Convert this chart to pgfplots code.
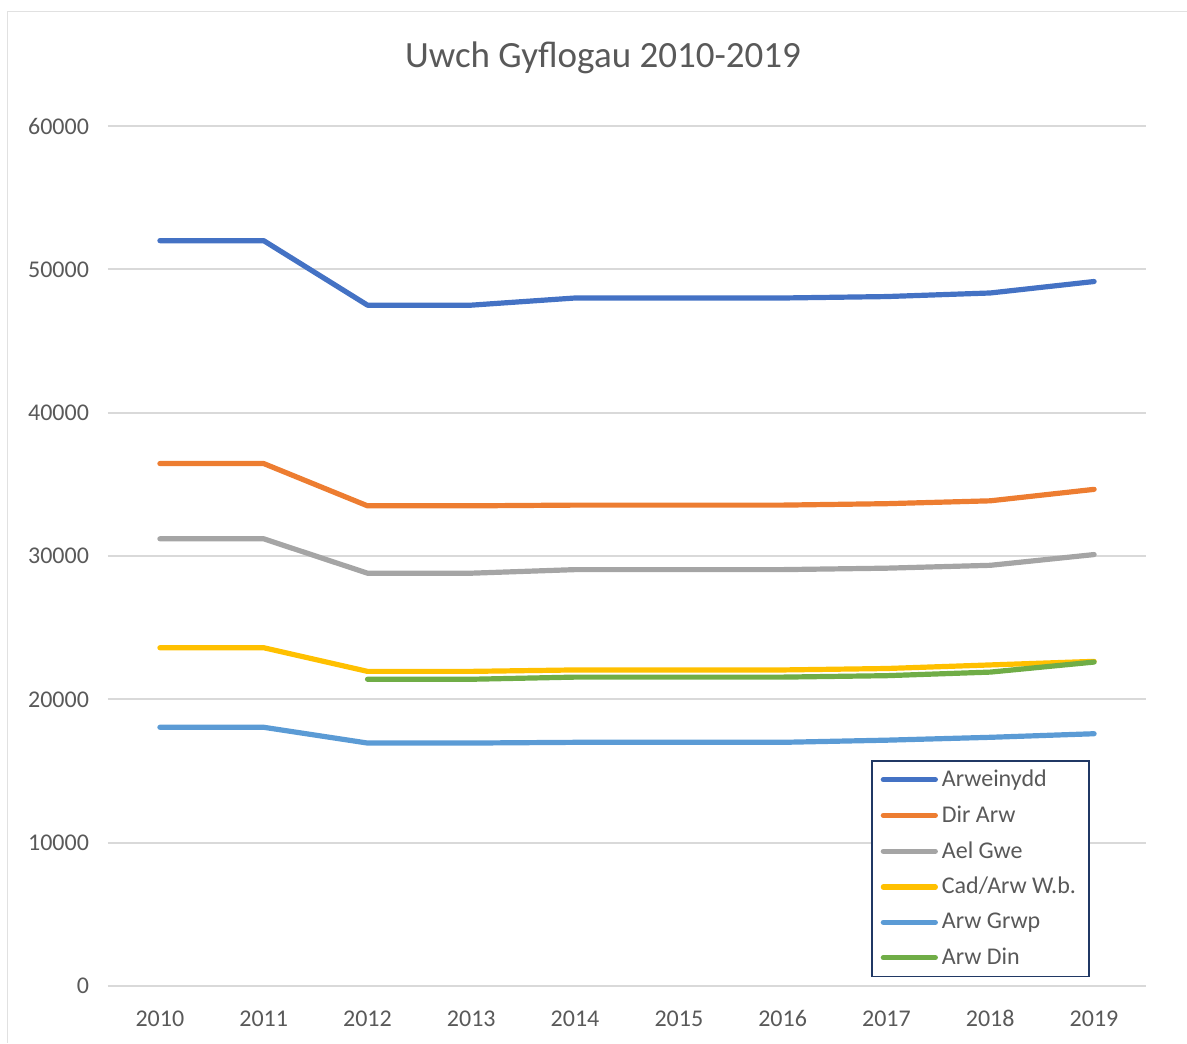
\documentclass[border=0pt]{standalone}
\usepackage{pgfplots}
\pgfplotsset{compat=1.18}
\usepackage{fontspec}
\setmainfont{Carlito}
\definecolor{cBlue}{HTML}{4472C4}
\definecolor{cOrange}{HTML}{ED7D31}
\definecolor{cGray}{HTML}{A5A5A5}
\definecolor{cGold}{HTML}{FFC000}
\definecolor{cLBlue}{HTML}{5B9BD5}
\definecolor{cGreen}{HTML}{70AD47}
\definecolor{txt}{HTML}{595959}
\definecolor{gridc}{HTML}{D9D9D9}
\definecolor{legbd}{HTML}{203864}
\begin{document}
\begin{tikzpicture}[x=1pt,y=1pt]
\path[use as bounding box] (-54,-28.5) rectangle (539.5,493);
\draw[gridc!80, line width=0.5pt] (-50,-28.5) -- (-50,487) -- (539.5,487);
\node[text=txt, font=\fontsize{18.5}{22}\selectfont, anchor=center] at (247.5,464) {Uwch Gyflogau 2010-2019};
\begin{axis}[
  at={(0,0)}, anchor=origin,
  scale only axis, width=519pt, height=430pt,
  xmin=2009.5, xmax=2019.5, ymin=0, ymax=60000,
  xtick={2010,...,2019}, ytick={0,10000,...,60000},
  /pgf/number format/1000 sep={},
  /pgf/number format/assume math mode=true,
  scaled y ticks=false,
  axis line style={draw=none}, tick style={draw=none},
  xmajorgrids=false, ymajorgrids=true,
  grid style={draw=gridc, line width=0.9pt},
  ticklabel style={font=\fontsize{12}{14}\selectfont, text=txt},
  xticklabel style={text height=7.8pt, text depth=0pt},
  xticklabel shift=9pt, yticklabel shift=6pt,
  every axis plot/.append style={line width=2.6pt, line cap=round, line join=round, mark=none},
  legend style={at={(0.735,0.2628)}, anchor=north west, draw=legbd, line width=0.8pt,
    font=\fontsize{12}{14}\selectfont, text=txt, inner xsep=4.5pt, inner ysep=2.5pt,
    row sep=4.1pt, /tikz/every even column/.append style={column sep=0pt}},
  legend cell align=left,
  legend image code/.code={\draw[#1, line cap=round] (0pt,0pt) -- (26pt,0pt);},
]
\addplot[cBlue] coordinates {(2010,52000)(2011,52000)(2012,47500)(2013,47500)(2014,48000)(2015,48000)(2016,48000)(2017,48100)(2018,48350)(2019,49150)};
\addlegendentry{Arweinydd}
\addplot[cOrange] coordinates {(2010,36450)(2011,36450)(2012,33500)(2013,33500)(2014,33550)(2015,33550)(2016,33550)(2017,33650)(2018,33850)(2019,34650)};
\addlegendentry{Dir Arw}
\addplot[cGray] coordinates {(2010,31200)(2011,31200)(2012,28800)(2013,28800)(2014,29050)(2015,29050)(2016,29050)(2017,29150)(2018,29350)(2019,30100)};
\addlegendentry{Ael Gwe}
\addplot[cGold] coordinates {(2010,23600)(2011,23600)(2012,21950)(2013,21950)(2014,22050)(2015,22050)(2016,22050)(2017,22150)(2018,22400)(2019,22650)};
\addlegendentry{Cad/Arw W.b.}
\addplot[cLBlue] coordinates {(2010,18050)(2011,18050)(2012,16950)(2013,16950)(2014,17000)(2015,17000)(2016,17000)(2017,17150)(2018,17350)(2019,17600)};
\addlegendentry{Arw Grwp}
\addplot[cGreen] coordinates {(2012,21400)(2013,21400)(2014,21550)(2015,21550)(2016,21550)(2017,21650)(2018,21900)(2019,22600)};
\addlegendentry{Arw Din}
\end{axis}
\end{tikzpicture}
\end{document}
